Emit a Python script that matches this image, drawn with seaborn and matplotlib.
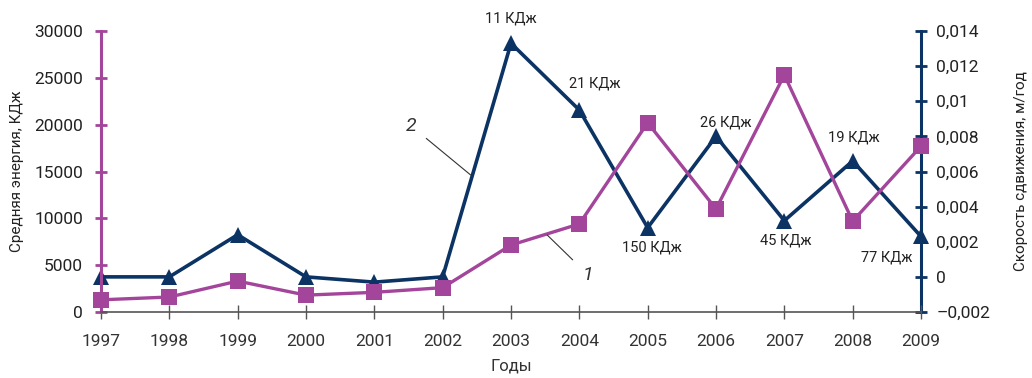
import matplotlib
matplotlib.use("Agg")
import matplotlib.pyplot as plt
import seaborn as sns
import pandas as pd

years = [1997, 1998, 1999, 2000, 2001, 2002, 2003, 2004, 2005, 2006, 2007, 2008, 2009]
energy = [1300, 1600, 3300, 1800, 2100, 2600, 7150, 9400, 20200, 11000, 25300, 9700, 17700]
speed = [0.0, 0.0, 0.0024, 0.0, -0.0003, 0.0, 0.0133, 0.0095, 0.0028, 0.0080, 0.0032, 0.0066, 0.0023]

energy_ticks = [0, 5000, 10000, 15000, 20000, 25000, 30000]
speed_ticks = [-0.002, 0, 0.002, 0.004, 0.006, 0.008, 0.01, 0.012, 0.014]
speed_tick_labels = ["–0,002", "0", "0,002", "0,004", "0,006", "0,008", "0,01", "0,012", "0,014"]

ann_years = [2003, 2004, 2005, 2006, 2007, 2008, 2009]
ann_texts = ["11 КДж", "21 КДж", "150 КДж", "26 КДж", "45 КДж", "19 КДж", "77 КДж"]

PINK = "#A3459B"
NAVY = "#0B3364"
GRAY = "#555555"

sns.set_theme(style="white")
plt.rcParams['font.family'] = ['Roboto', 'DejaVu Sans']

df = pd.DataFrame({"year": years, "energy": energy, "speed": speed})

fig = plt.figure(figsize=(10.32, 3.78), dpi=100)
ax = fig.add_axes([101/1032, 1-312/378, (921-101)/1032, (312-31)/378])
ax2 = ax.twinx()

sns.lineplot(data=df, x="year", y="energy", ax=ax, color=PINK, linewidth=2.4,
             marker="s", markersize=11, markeredgewidth=0, clip_on=False, zorder=3)
sns.lineplot(data=df, x="year", y="speed", ax=ax2, color=NAVY, linewidth=2.6,
             marker="^", markersize=12, markeredgewidth=0, clip_on=False, zorder=3)

ax.set_xlim(1997, 2009)
ax.set_ylim(0, 30000)
ax2.set_ylim(-0.002, 0.014)
ax.set_xticks(years)
ax.set_xticklabels([str(y) for y in years], fontsize=12.5, color="#333333")
ax.set_yticks(energy_ticks)
ax.set_yticklabels([str(v) for v in energy_ticks], fontsize=12.5, color="#222222")
ax2.set_yticks(speed_ticks)
ax2.set_yticklabels(speed_tick_labels, fontsize=12.5, color="#222222")

for a in (ax, ax2):
    a.spines["top"].set_visible(False)
ax.spines["right"].set_visible(False)
ax.spines["left"].set_color(PINK)
ax.spines["left"].set_linewidth(2.2)
ax.spines["bottom"].set_color(GRAY)
ax.spines["bottom"].set_linewidth(1.2)
ax2.spines["left"].set_visible(False)
ax2.spines["bottom"].set_visible(False)
ax2.spines["right"].set_color(NAVY)
ax2.spines["right"].set_linewidth(2.2)
ax.set_zorder(ax2.get_zorder() + 1)
ax.patch.set_visible(False)

ax.tick_params(axis="x", direction="inout", length=10, width=1, color=GRAY, pad=11, bottom=True)
ax.tick_params(axis="y", direction="inout", length=8, width=2, color=PINK, pad=9, left=True)
ax2.tick_params(axis="y", direction="inout", length=8, width=2, color=NAVY, pad=7, right=True)

ax.set_xlabel("Годы", fontsize=12, color="#333333", labelpad=7)
ax.set_ylabel("Средняя энергия, КДж", fontsize=11, color="#222222", labelpad=7)
ax2.set_ylabel("Скорость сдвижения, м/год", fontsize=11, color="#222222", labelpad=17)
ax.grid(False)
ax2.grid(False)

offsets = {2003: (0, 13, "center", "bottom"),
           2004: (-7.5, 14, "left", "bottom"),
           2005: (3, -9, "center", "top"),
           2006: (7, 5, "center", "bottom"),
           2007: (1, -9, "center", "top"),
           2008: (1, 12, "center", "bottom"),
           2009: (-6, -10, "right", "top")}
for yr, txt in zip(ann_years, ann_texts):
    val = speed[years.index(yr)]
    dx, dy, ha, va = offsets[yr]
    ax2.annotate(txt, (yr, val), xytext=(dx, dy), textcoords="offset points",
                 ha=ha, va=va, fontsize=10.5, color="#222222")

# series number labels with leader lines
ax2.annotate("2", xy=(2002.41, 0.0058), xytext=(2001.54, 0.00859),
             fontsize=14, style="italic", color="#333333", ha="center", va="center",
             arrowprops=dict(arrowstyle="-", color="#333333", lw=0.8,
                             shrinkA=6, shrinkB=0))
ax.annotate("1", xy=(2003.53, 8220), xytext=(2004.13, 3950),
            fontsize=14, style="italic", color="#333333", ha="center", va="center",
            arrowprops=dict(arrowstyle="-", color="#333333", lw=0.8,
                            shrinkA=7, shrinkB=0))

fig.savefig("out.png", dpi=100)
